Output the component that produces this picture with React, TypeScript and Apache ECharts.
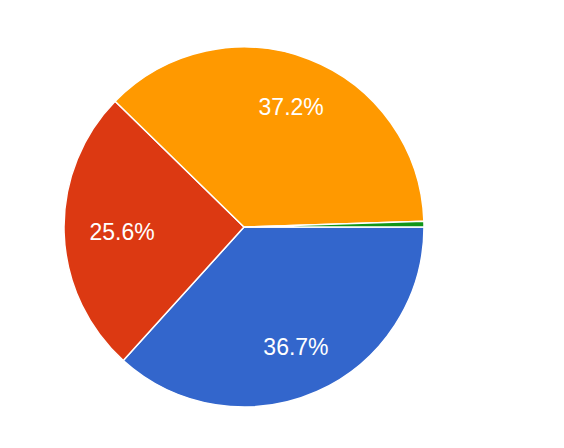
import React, { useEffect, useRef } from "react";
import * as echarts from "echarts";

const categories = ["A", "B", "C", "D"];
const values = [36.7, 25.6, 37.2, 0.5];
const colors = ["#3366cc", "#dc3912", "#ff9900", "#109618"];
const labelOffsets = [[-2, -2], [11, 1], [-1, 4], [0, 0]];

export default function App() {
  const ref = useRef<HTMLDivElement>(null);
  useEffect(() => {
    document.body.style.margin = "0";
    const chart = echarts.init(ref.current!, undefined, { renderer: "svg" });
    const data = categories.map((c, i) => ({
      name: c,
      value: values[i],
      itemStyle: { color: colors[i] },
    }));
    const labelData = categories.map((c, i) => ({
      name: c,
      value: values[i],
      label: { show: values[i] >= 1, offset: labelOffsets[i] },
    }));
    chart.setOption({
      animation: false,
      backgroundColor: "#ffffff",
      series: [
        {
          type: "pie",
          center: [244, 227],
          radius: [0, 180],
          startAngle: 0,
          clockwise: true,
          silent: true,
          label: { show: false },
          labelLine: { show: false },
          itemStyle: { borderColor: "#ffffff", borderWidth: 1.5 },
          data,
        },
        {
          type: "pie",
          center: [244, 227],
          radius: [80, 180],
          startAngle: 0,
          clockwise: true,
          silent: true,
          itemStyle: { color: "rgba(0,0,0,0)", borderWidth: 0 },
          label: {
            show: true,
            position: "inside",
            color: "#ffffff",
            fontFamily: "Liberation Sans, Arial, sans-serif",
            fontSize: 23,
            formatter: (p: any) => p.value.toFixed(1) + "%",
          },
          labelLine: { show: false },
          data: labelData,
        },
      ],
    });
    return () => chart.dispose();
  }, []);
  return <div ref={ref} style={{ width: 564, height: 448 }} />;
}
